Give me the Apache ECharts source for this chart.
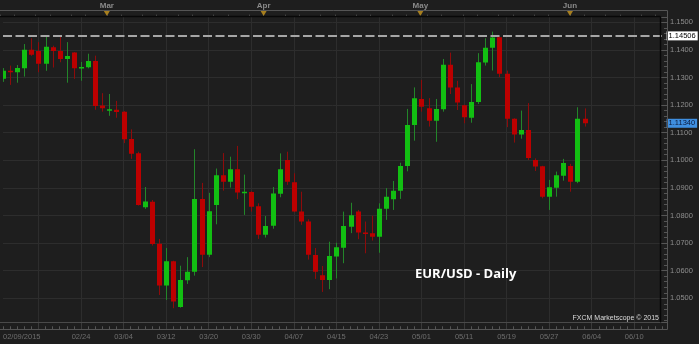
<!DOCTYPE html>
<html>
<head>
<meta charset="utf-8">
<script src="https://cdn.jsdelivr.net/npm/echarts@6/dist/echarts.min.js"></script>
<style>
  html, body { margin: 0; padding: 0; background: #1e1e1e; }
  #chart { width: 699px; height: 344px; }
</style>
</head>
<body>
<div id="chart"></div>
<script>
// ---- Data (EUR/USD daily) ----
const year = '2015';
const dates = [
  '02/09','02/10','02/11','02/12','02/13','02/16','02/17','02/18','02/19','02/20',
  '02/23','02/24','02/25','02/26','02/27','03/02','03/03','03/04','03/05','03/06',
  '03/09','03/10','03/11','03/12','03/13','03/16','03/17','03/18','03/19','03/20',
  '03/23','03/24','03/25','03/26','03/27','03/30','03/31','04/01','04/02','04/03',
  '04/06','04/07','04/08','04/09','04/10','04/13','04/14','04/15','04/16','04/17',
  '04/20','04/21','04/22','04/23','04/24','04/27','04/28','04/29','04/30','05/01',
  '05/04','05/05','05/06','05/07','05/08','05/11','05/12','05/13','05/14','05/15',
  '05/18','05/19','05/20','05/21','05/22','05/25','05/26','05/27','05/28','05/29',
  '06/01','06/02','06/03','06/04','06/05','06/06','06/07','06/08','06/09','06/10',
  '06/11','06/12','06/13','06/14'
];
const monthNames = { '03': 'Mar', '04': 'Apr', '05': 'May', '06': 'Jun' };

const open = [
  1.1295,1.1324,1.1319,1.1333,1.1400,1.1396,1.1350,1.1409,1.1396,1.1367,
  1.1390,1.1333,1.1337,1.1360,1.1198,1.1180,1.1183,1.1176,1.1077,1.1025,
  1.0830,1.0850,1.0698,1.0546,1.0634,1.0468,1.0565,1.0596,1.0860,1.0658,
  1.0838,1.0946,1.0922,1.0967,1.0883,1.0885,1.0833,1.0730,1.0763,1.0879,
  1.1001,1.0920,1.0814,1.0778,1.0657,1.0583,1.0566,1.0651,1.0683,1.0759,
  1.0814,1.0738,1.0736,1.0723,1.0824,1.0859,1.0890,1.0979,1.1128,1.1222,
  1.1188,1.1143,1.1185,1.1346,1.1264,1.1199,1.1154,1.1211,1.1354,1.1408,
  1.1446,1.1313,1.1150,1.1093,1.1110,1.1001,1.0978,1.0868,1.0900,1.0944,
  1.0979,1.0922,1.1150
];
const close = [
  1.1324,1.1321,1.1334,1.1400,1.1382,1.1350,1.1411,1.1396,1.1367,1.1378,
  1.1333,1.1338,1.1360,1.1197,1.1188,1.1185,1.1175,1.1076,1.1024,1.0838,
  1.0851,1.0697,1.0546,1.0634,1.0488,1.0566,1.0596,1.0860,1.0658,1.0815,
  1.0946,1.0922,1.0967,1.0883,1.0886,1.0832,1.0730,1.0762,1.0880,1.0967,
  1.0922,1.0814,1.0778,1.0658,1.0596,1.0566,1.0653,1.0685,1.0762,1.0801,
  1.0738,1.0736,1.0723,1.0824,1.0868,1.0890,1.0979,1.1128,1.1225,1.1194,
  1.1143,1.1186,1.1346,1.1264,1.1209,1.1156,1.1211,1.1355,1.1408,1.1445,
  1.1313,1.1150,1.1093,1.1110,1.1008,1.0977,1.0868,1.0902,1.0946,1.0990,
  1.0922,1.1150,1.1134
];
const low = [
  1.1284,1.1273,1.1281,1.1303,1.1378,1.1319,1.1324,1.1336,1.1355,1.1281,
  1.1295,1.1288,1.1333,1.1183,1.1176,1.1161,1.1154,1.1062,1.1005,1.0836,
  1.0824,1.0691,1.0512,1.0494,1.0464,1.0466,1.0552,1.0582,1.0613,1.0649,
  1.0768,1.0890,1.0901,1.0859,1.0802,1.0814,1.0715,1.0720,1.0752,1.0866,
  1.0911,1.0812,1.0766,1.0640,1.0570,1.0523,1.0533,1.0572,1.0627,1.0736,
  1.0714,1.0663,1.0709,1.0665,1.0784,1.0820,1.0860,1.0960,1.1071,1.1176,
  1.1122,1.1067,1.1176,1.1240,1.1182,1.1134,1.1136,1.1204,1.1343,1.1325,
  1.1301,1.1120,1.1064,1.1078,1.1001,1.0961,1.0862,1.0820,1.0868,1.0926,
  1.0886,1.0917,1.1122
];
const high = [
  1.1334,1.1343,1.1345,1.1421,1.1442,1.1428,1.1448,1.1415,1.1448,1.1428,
  1.1392,1.1356,1.1386,1.1379,1.1243,1.1240,1.1215,1.1178,1.1112,1.1031,
  1.0903,1.0856,1.0715,1.0682,1.0636,1.0618,1.0649,1.1040,1.0918,1.0882,
  1.0970,1.1026,1.1013,1.1052,1.0948,1.0888,1.0844,1.0798,1.0903,1.1025,
  1.1031,1.0953,1.0886,1.0786,1.0682,1.0617,1.0705,1.0701,1.0814,1.0846,
  1.0820,1.0778,1.0799,1.0844,1.0899,1.0925,1.0991,1.1186,1.1264,1.1291,
  1.1225,1.1222,1.1367,1.1390,1.1288,1.1201,1.1276,1.1388,1.1442,1.1466,
  1.1448,1.1325,1.1152,1.1180,1.1207,1.1007,1.0980,1.0929,1.0959,1.1005,
  1.0987,1.1192,1.1188
];
const refLevel = 1.14506;         // dashed horizontal level
const yMin = 1.0413, yMax = 1.1519;

// ---- Styling ----
const bodyUp = '#12bf12', wickUp = '#23862a';
const bodyDown = '#bc0000', wickDown = '#8e0b0b';
const gridColor = '#2d2d2d';
const rulerColor = '#555555';
const axisFont = "'Liberation Sans', sans-serif";

const candleRows = open.map((o, i) => [i, o, close[i], low[i], high[i]]);
const monthStarts = [];
dates.forEach((d, i) => {
  if (i > 0 && d.slice(0, 2) !== dates[i - 1].slice(0, 2)) monthStarts.push(i);
});
const lastIdx = dates.length - 1;
const lastClose = close[close.length - 1];

function renderCandle(params, api) {
  const i = api.value(0);
  const o = api.value(1), c = api.value(2), l = api.value(3), h = api.value(4);
  const pO = api.coord([i, o]), pC = api.coord([i, c]);
  const pL = api.coord([i, l]), pH = api.coord([i, h]);
  const x = Math.round(pO[0]);
  const up = c >= o;
  const top = Math.min(pO[1], pC[1]);
  const bot = Math.max(pO[1], pC[1]);
  return {
    type: 'group',
    children: [
      { type: 'line', shape: { x1: x + 0.5, y1: pH[1], x2: x + 0.5, y2: pL[1] },
        style: { stroke: up ? wickUp : wickDown, lineWidth: 1 } },
      { type: 'rect', shape: { x: x - 2, y: top, width: 5, height: Math.max(bot - top, 1.5) },
        style: { fill: up ? bodyUp : bodyDown } }
    ]
  };
}

const isWholeHundredth = (v) => Math.abs(v * 100 - Math.round(v * 100)) < 1e-6;

const chart = echarts.init(document.getElementById('chart'), null, { renderer: 'canvas' });
const plotW = 662.6;
chart.setOption({
  animation: false,
  backgroundColor: '#1e1e1e',
  title: [
    { text: 'EUR/USD - Daily', left: 415, top: 268, padding: 0,
      textStyle: { color: '#ffffff', fontSize: 13, fontWeight: 'bold', fontFamily: "'Open Sans', sans-serif" } },
    { text: 'FXCM Marketscope © 2015', right: 40, top: 315, padding: 0,
      textStyle: { color: '#dcdcdc', fontSize: 7, fontWeight: 'normal', fontFamily: "'Liberation Sans', sans-serif" } }
  ],
  grid: [
    { left: 0, width: plotW, top: 17, height: 305.3, show: false },
    { left: 0, width: plotW, top: 10.5, height: 6.2, show: false }
  ],
  xAxis: [
    { gridIndex: 0, type: 'category', data: dates, boundaryGap: false, position: 'bottom', offset: 7,
      axisLine: { show: false },
      axisTick: { show: true, interval: 0, inside: true, length: 3, lineStyle: { color: rulerColor } },
      axisLabel: { interval: (i) => i % 6 === 5 && i > 5, color: '#6e6e6e', fontSize: 7.5, margin: 4, fontFamily: axisFont },
      splitLine: { show: true, interval: (i) => i % 6 === 5, lineStyle: { color: gridColor, width: 1 } } },
    { gridIndex: 0, type: 'category', data: dates, boundaryGap: false, position: 'bottom', offset: 7,
      axisLine: { show: false },
      axisTick: { show: true, interval: (i) => i % 6 === 5, inside: true, length: 7, lineStyle: { color: '#3a3a3a' } },
      axisLabel: { interval: (i) => i === 0, formatter: (v) => v + '/' + year, align: 'left',
                   color: '#6e6e6e', fontSize: 7.5, margin: 4, fontFamily: axisFont },
      splitLine: { show: false } },
    { gridIndex: 1, type: 'category', data: dates, boundaryGap: false, position: 'top',
      axisLine: { show: false },
      axisTick: { show: true, interval: (i) => i % 5 === 0 || i % 5 === 2, inside: false, length: 2, lineStyle: { color: rulerColor } },
      axisLabel: { interval: (i) => monthStarts.indexOf(i) >= 0, formatter: (v) => monthNames[v.slice(0, 2)],
                   color: '#8a8a8a', fontSize: 8, margin: 1, fontWeight: 'bold', fontFamily: axisFont },
      splitLine: { show: false } }
  ],
  yAxis: [
    { gridIndex: 0, type: 'value', position: 'right', min: yMin, max: yMax, splitNumber: 11, offset: 5.4,
      axisLine: { show: false },
      axisTick: { show: true, inside: true, length: 7, lineStyle: { color: rulerColor } },
      minorTick: { show: true, splitNumber: 5, length: 4, lineStyle: { color: rulerColor } },
      axisLabel: { formatter: (v) => (isWholeHundredth(v) ? v.toFixed(4) : ''),
                   color: '#8e8e8e', fontSize: 7.5, margin: 2, fontFamily: axisFont },
      splitLine: { show: true, showMinLine: false, showMaxLine: false, lineStyle: { color: gridColor, width: 1 } } },
    { gridIndex: 1, type: 'value', min: 0, max: 1, show: false }
  ],
  series: [
    { type: 'custom', xAxisIndex: 0, yAxisIndex: 0, data: candleRows,
      encode: { x: 0, y: [1, 2, 3, 4] }, renderItem: renderCandle, clip: true, z: 3 },
    { type: 'line', xAxisIndex: 0, yAxisIndex: 0, data: [[0, refLevel], [lastIdx, refLevel]],
      symbol: 'none', silent: true, z: 4,
      lineStyle: { type: [9, 3.5], color: '#a6a6a6', width: 2 },
      endLabel: { show: true, distance: 4, formatter: () => refLevel.toFixed(5),
                  backgroundColor: '#ffffff', color: '#000000', padding: [1, 2, 0, 2],
                  fontSize: 7.5, fontFamily: axisFont } },
    { type: 'line', xAxisIndex: 0, yAxisIndex: 0, data: [[0, lastClose], [lastIdx, lastClose]],
      symbol: 'none', silent: true, z: 4,
      lineStyle: { opacity: 0, width: 0 },
      endLabel: { show: true, distance: 4, formatter: () => lastClose.toFixed(5),
                  backgroundColor: '#3f8fe0', color: '#0b1a3c', padding: [1, 2, 0, 2],
                  fontSize: 7.5, fontFamily: axisFont } },
    { type: 'scatter', xAxisIndex: 2, yAxisIndex: 1,
      data: monthStarts.map((i) => [i, 0.5]),
      symbol: 'triangle', symbolRotate: 180, symbolSize: [6, 5],
      itemStyle: { color: '#c9971f' }, silent: true, z: 4 }
  ],
  graphic: [
    { type: 'rect', z: 50, silent: true, shape: { x: -1, y: 10.5, width: 668.5, height: 319 },
      style: { fill: null, stroke: rulerColor, lineWidth: 1 } },
    { type: 'line', z: 50, silent: true, shape: { x1: 0, y1: 16.5, x2: 660.5, y2: 16.5 },
      style: { stroke: '#080808', lineWidth: 1.5 } },
    { type: 'line', z: 50, silent: true, shape: { x1: 660.5, y1: 16.5, x2: 660.5, y2: 322.5 },
      style: { stroke: '#080808', lineWidth: 1.5 } },
    { type: 'line', z: 50, silent: true, shape: { x1: 0, y1: 322.5, x2: 660.5, y2: 322.5 },
      style: { stroke: '#4a4a4a', lineWidth: 1 } }
  ]
});
</script>
</body>
</html>
